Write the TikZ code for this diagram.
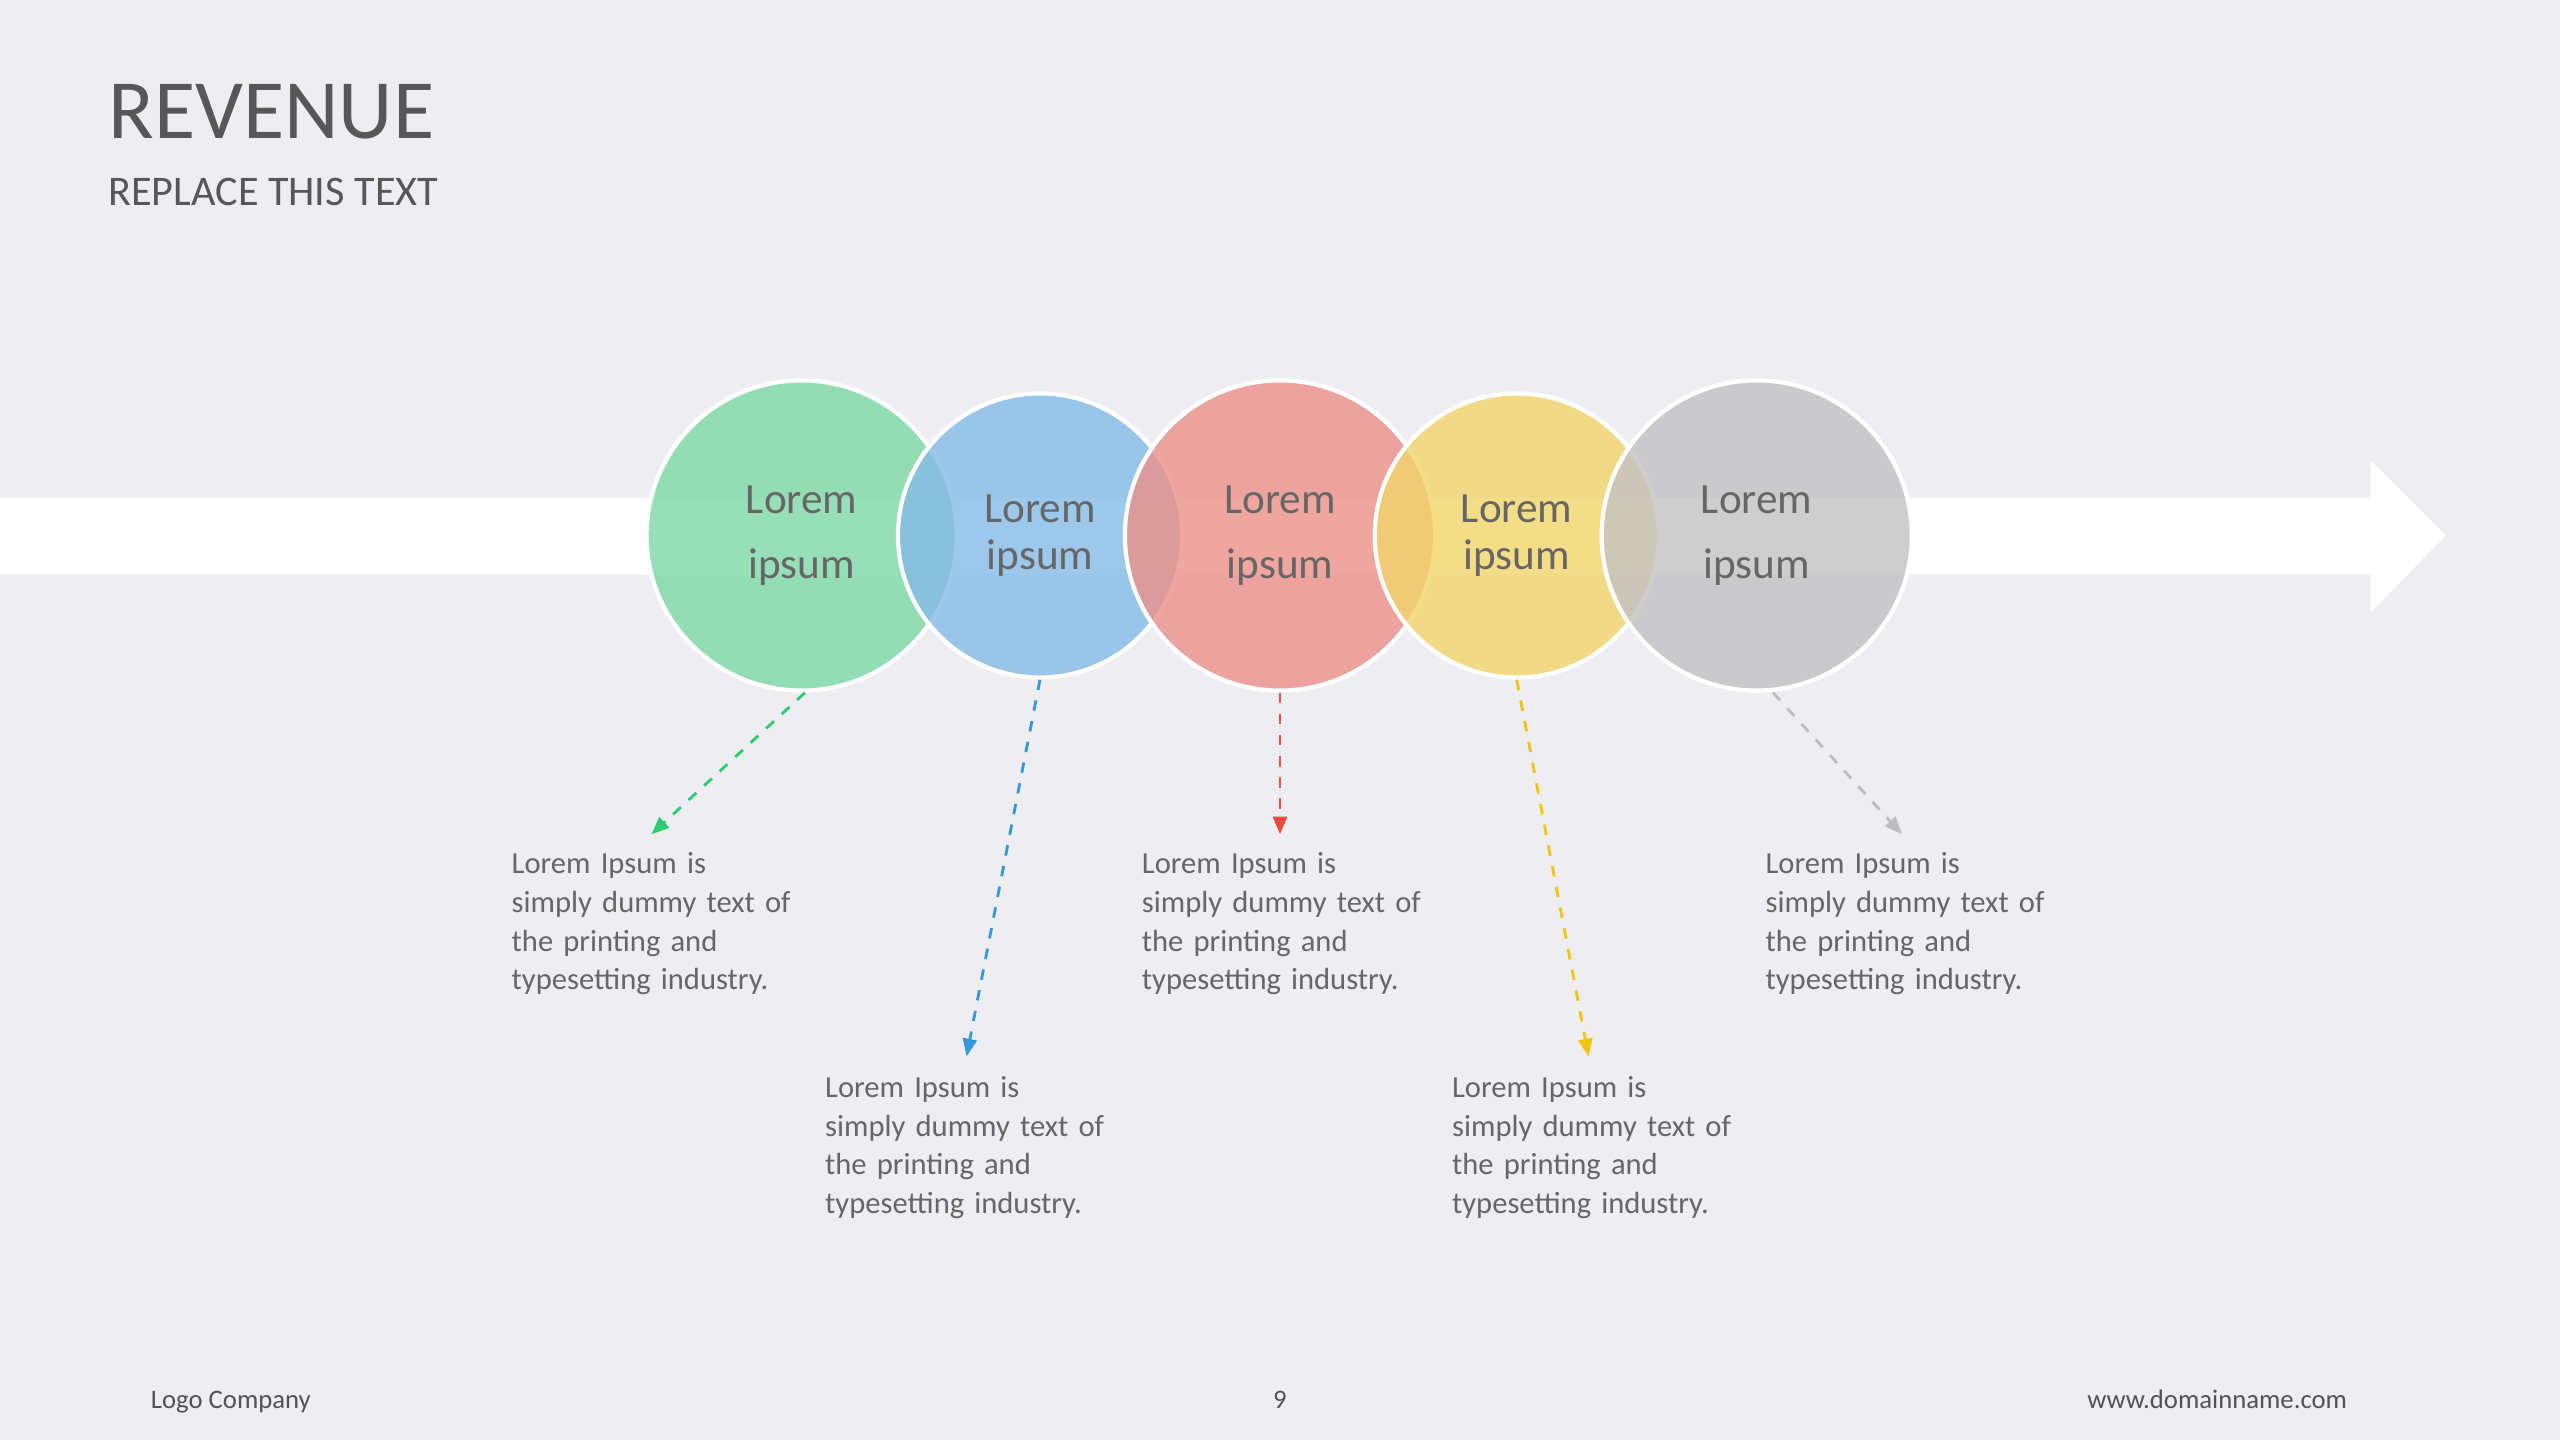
\documentclass[tikz,border=0pt]{standalone}
\usepackage{fontspec}
\setmainfont{Carlito}
\usetikzlibrary{positioning,arrows.meta,calc}
\definecolor{bgc}{HTML}{EEEDF2}
\definecolor{cgreen}{HTML}{7DD9A6}
\definecolor{cblue}{HTML}{84BBE6}
\definecolor{cred}{HTML}{EC9088}
\definecolor{cyellow}{HTML}{F2D56A}
\definecolor{cgray}{HTML}{C2C2C4}
\definecolor{agreen}{HTML}{2ECC71}
\definecolor{ablue}{HTML}{3498DB}
\definecolor{ared}{HTML}{E74C3C}
\definecolor{ayellow}{HTML}{F1C40F}
\definecolor{agray}{HTML}{BDBDBD}
\definecolor{txt}{HTML}{666666}
\begin{document}
\begin{tikzpicture}[
    x=0.01633cm, y=-0.01633cm,
    bubble/.style={circle, draw=white, line width=1.2pt, fill opacity=0.8, text opacity=1, text=txt, align=center, font=\fontsize{12.3}{18.5}\selectfont},
    small/.style={bubble, minimum size=174*0.01633cm, font=\fontsize{12.3}{13.5}\selectfont},
    big/.style={bubble, minimum size=190*0.01633cm},
    note/.style={anchor=north west, align=left, text width=4cm, inner sep=0pt, text=txt, font=\fontsize{8.7}{11}\selectfont},
    link/.style={dashed, line width=0.8pt, -{Triangle[length=5pt, width=4pt]}}
]
    \fill[bgc] (0,0) rectangle (1568,882);
    \node[anchor=base west, inner sep=0pt, text=txt!85!black, font=\fontsize{24}{26}\selectfont] (title) at (66,85) {REVENUE};
    \node[anchor=base west, inner sep=0pt, text=txt!85!black, font=\fontsize{12}{13}\selectfont] (sub) at (66,126) {REPLACE THIS TEXT};
    % band arrow
    \fill[white] (0,305) -- (1452,305) -- (1452,282) -- (1498,328) -- (1452,375) -- (1452,352) -- (0,352) -- cycle;
    % bubbles
    \node[big, fill=cgreen] (green) at (491,328) {Lorem\\ipsum};
    \node[small, fill=cblue] (blue) at (637,328) {Lorem\\ipsum};
    \node[big, fill=cred] (red) at (784,328) {Lorem\\ipsum};
    \node[small, fill=cyellow] (yellow) at (929,328) {Lorem\\ipsum};
    \node[big, fill=cgray] (gray) at (1076,328) {Lorem\\ipsum};
    % notes
    \node[note] (ngreen) at (313,522) {Lorem Ipsum is\\simply dummy text of\\the printing and\\typesetting industry.};
    \node[note] (nblue) at (505,659) {Lorem Ipsum is\\simply dummy text of\\the printing and\\typesetting industry.};
    \node[note] (nred) at (699,522) {Lorem Ipsum is\\simply dummy text of\\the printing and\\typesetting industry.};
    \node[note] (nyellow) at (889,659) {Lorem Ipsum is\\simply dummy text of\\the printing and\\typesetting industry.};
    \node[note] (ngray) at (1081,522) {Lorem Ipsum is\\simply dummy text of\\the printing and\\typesetting industry.};
    \coordinate (tgreen) at (399,511);
    \coordinate (tblue) at (592,647);
    \coordinate (tred) at (784,511);
    \coordinate (tyellow) at (973,647);
    \coordinate (tgray) at (1165,511);
    \draw[link, agreen] (green.south) ++(2,0) -- (tgreen);
    \draw[link, ablue] (blue.south) -- (tblue);
    \draw[link, ared] (red.south) -- (tred);
    \draw[link, ayellow] (yellow.south) -- (tyellow);
    \draw[link, agray] (gray.south) ++(10,0) -- (tgray);
    % footer
    \node[anchor=base west, inner sep=0pt, text=txt!80!black, font=\fontsize{7.6}{9}\selectfont] (logo) at (92,863) {Logo Company};
    \node[anchor=base, inner sep=0pt, text=txt!80!black, font=\fontsize{7.6}{9}\selectfont] (page) at (784,863) {9};
    \node[anchor=base east, inner sep=0pt, text=txt!80!black, font=\fontsize{7.6}{9}\selectfont] (web) at (1438,863) {www.domainname.com};
\end{tikzpicture}
\end{document}
